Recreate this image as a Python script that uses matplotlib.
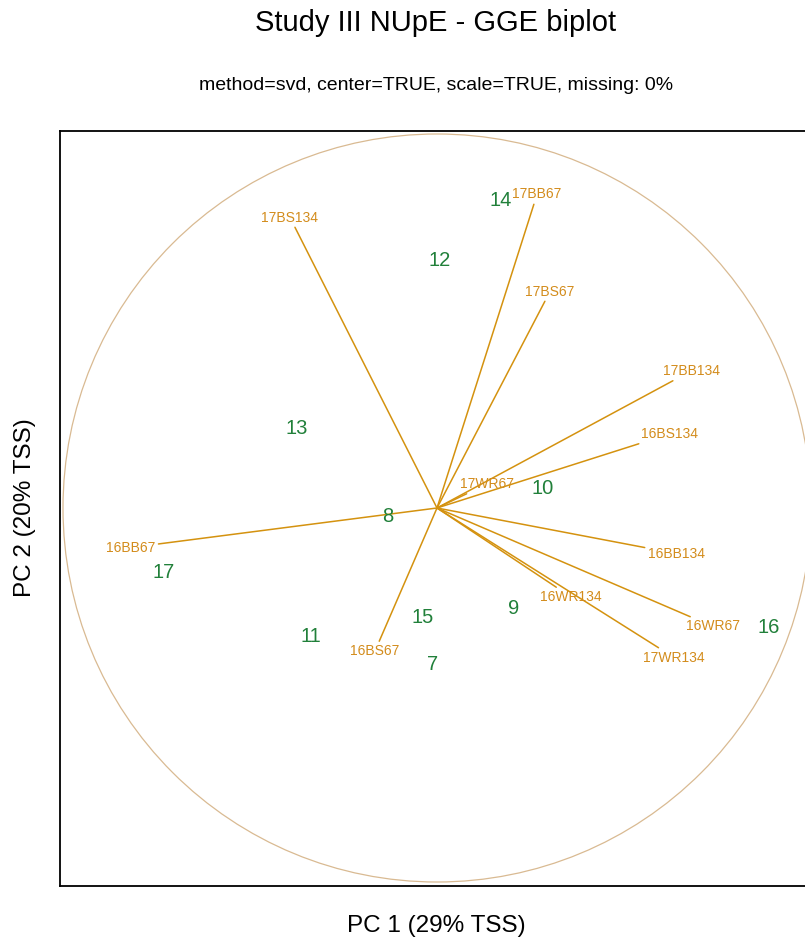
import numpy as np
import matplotlib.pyplot as plt
from matplotlib.patches import Circle

plt.rcParams['font.family'] = ['Liberation Sans', 'DejaVu Sans']

# ------------------------------------------------------------
# biplot scores (PC1, PC2)
# ------------------------------------------------------------

env_names = ["17BB67", "17BS67", "17BS134", "17BB134", "16BS134", "17WR67",
             "16BB134", "16WR67", "17WR134", "16WR134", "16BB67", "16BS67"]
env_pc1 = [1.00, 1.13, -1.47, 2.54, 2.325, 0.50,
           2.39, 2.76, 2.37, 1.34, -3.06, -0.62]
env_pc2 = [3.135, 2.165, 2.905, 1.37, 0.74, 0.24,
           -0.455, -1.185, -1.495, -0.89, -0.395, -1.43]

gen_names = ["14", "12", "13", "10", "8", "17", "9", "15", "11", "7", "16"]
gen_pc1 = [0.64, 0.03, -1.40, 1.06, -0.49, -2.73, 0.77, -0.14, -1.26, -0.04, 3.32]
gen_pc2 = [3.075, 2.47, 0.80, 0.195, -0.09, -0.64, -1.01, -1.095, -1.29, -1.56, -1.195]

circle_radius = 3.74

title = "Study III NUpE - GGE biplot"
subtitle = "method=svd, center=TRUE, scale=TRUE, missing: 0%"
xlab = "PC 1 (29% TSS)"
ylab = "PC 2 (20% TSS)"

env_col = "#D4920F"
env_text_col = "#D38C1C"
gen_col = "#21803A"
circle_col = "#D9BA92"

# ------------------------------------------------------------
# figure
# ------------------------------------------------------------

W, H = 805, 943
fig = plt.figure(figsize=(W / 100, H / 100), dpi=100)
ax = fig.add_axes([60 / W, (H - 886) / H, 752 / W, 755 / H])

ax.set_xlim(-3.77, 3.75)
ax.set_ylim(-3.78, 3.77)
ax.set_xticks([])
ax.set_yticks([])
for sp in ax.spines.values():
    sp.set_linewidth(1.3)
    sp.set_color("black")

ax.add_patch(Circle((0, 0), circle_radius, fill=False,
                    edgecolor=circle_col, linewidth=0.9, clip_on=False))

# environment vectors: line from origin, stopped at the label box
for name, x, y in zip(env_names, env_pc1, env_pc2):
    ax.annotate(name, xy=(0, 0), xytext=(x, y),
                ha="center", va="center", fontsize=10, color=env_text_col,
                arrowprops=dict(arrowstyle="-", color=env_col, lw=1.1,
                                shrinkA=0, shrinkB=0))

# genotypes
for name, x, y in zip(gen_names, gen_pc1, gen_pc2):
    ax.text(x, y, name, ha="center", va="center", fontsize=14.5, color=gen_col)

fig.text(436 / W, 1 - 23 / H, title, ha="center", va="center", fontsize=21)
fig.text(436 / W, 1 - 85 / H, subtitle, ha="center", va="center", fontsize=14)
fig.text(436 / W, 1 - 926 / H, xlab, ha="center", va="center", fontsize=17.5)
fig.text(25 / W, 1 - 508 / H, ylab, ha="center", va="center",
         rotation=90, fontsize=17.5)

fig.savefig("out.png", dpi=100)
